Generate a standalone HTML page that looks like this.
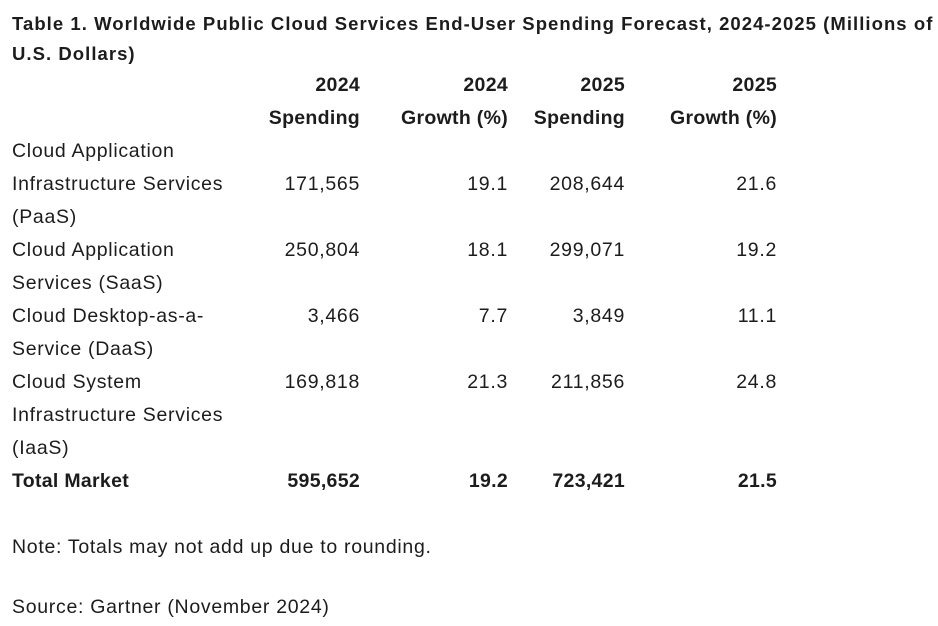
<!DOCTYPE html>
<html><head><meta charset="utf-8"><style>
body{margin:0;width:938px;height:626px;background:#fff;font-family:"Liberation Sans",sans-serif;color:#1c1c1c;position:relative;overflow:hidden}
.t{position:absolute;white-space:nowrap;line-height:33px;font-size:19.5px;letter-spacing:0.7px}
.b{font-weight:bold;letter-spacing:0.3px}
.r{text-align:right}
.title{font-size:18.5px;font-weight:bold;letter-spacing:1.05px}
</style></head><body>
<div class="t title" style="left:12px;top:7px">Table 1. Worldwide Public Cloud Services End-User Spending Forecast, 2024-2025 (Millions of</div>
<div class="t title" style="left:12px;top:37px">U.S. Dollars)</div>

<div class="t b r" style="right:578px;top:69px">2024</div>
<div class="t b r" style="right:578px;top:102px">Spending</div>
<div class="t b r" style="right:430px;top:69px">2024</div>
<div class="t b r" style="right:430px;top:102px">Growth (%)</div>
<div class="t b r" style="right:313px;top:69px">2025</div>
<div class="t b r" style="right:313px;top:102px">Spending</div>
<div class="t b r" style="right:161px;top:69px">2025</div>
<div class="t b r" style="right:161px;top:102px">Growth (%)</div>

<div class="t" style="left:12px;top:135px">Cloud Application</div>
<div class="t" style="left:12px;top:168px">Infrastructure Services</div>
<div class="t" style="left:12px;top:201px">(PaaS)</div>
<div class="t r" style="right:578px;top:168px">171,565</div>
<div class="t r" style="right:430px;top:168px">19.1</div>
<div class="t r" style="right:313px;top:168px">208,644</div>
<div class="t r" style="right:161px;top:168px">21.6</div>

<div class="t" style="left:12px;top:234px">Cloud Application</div>
<div class="t" style="left:12px;top:267px">Services (SaaS)</div>
<div class="t r" style="right:578px;top:234px">250,804</div>
<div class="t r" style="right:430px;top:234px">18.1</div>
<div class="t r" style="right:313px;top:234px">299,071</div>
<div class="t r" style="right:161px;top:234px">19.2</div>

<div class="t" style="left:12px;top:300px">Cloud Desktop-as-a-</div>
<div class="t" style="left:12px;top:333px">Service (DaaS)</div>
<div class="t r" style="right:578px;top:300px">3,466</div>
<div class="t r" style="right:430px;top:300px">7.7</div>
<div class="t r" style="right:313px;top:300px">3,849</div>
<div class="t r" style="right:161px;top:300px">11.1</div>

<div class="t" style="left:12px;top:366px">Cloud System</div>
<div class="t" style="left:12px;top:399px">Infrastructure Services</div>
<div class="t" style="left:12px;top:432px">(IaaS)</div>
<div class="t r" style="right:578px;top:366px">169,818</div>
<div class="t r" style="right:430px;top:366px">21.3</div>
<div class="t r" style="right:313px;top:366px">211,856</div>
<div class="t r" style="right:161px;top:366px">24.8</div>

<div class="t b" style="left:12px;top:465px">Total Market</div>
<div class="t b r" style="right:578px;top:465px">595,652</div>
<div class="t b r" style="right:430px;top:465px">19.2</div>
<div class="t b r" style="right:313px;top:465px">723,421</div>
<div class="t b r" style="right:161px;top:465px">21.5</div>

<div class="t" style="left:12px;top:531px">Note: Totals may not add up due to rounding.</div>
<div class="t" style="left:12px;top:591px">Source: Gartner (November 2024)</div>
</body></html>
